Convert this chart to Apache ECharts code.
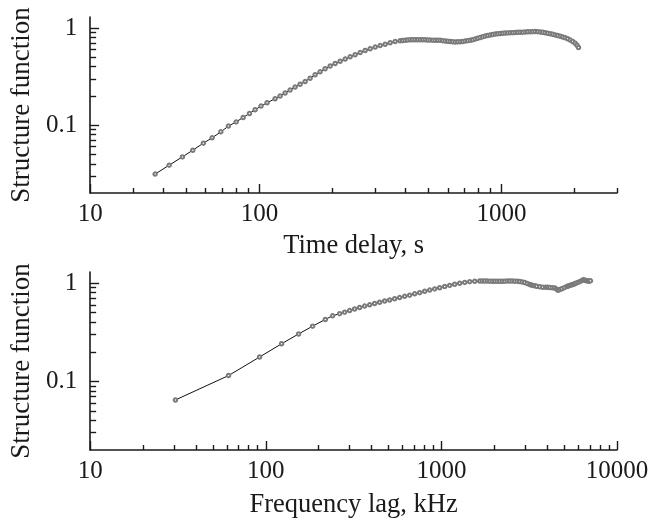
<!DOCTYPE html>
<html><head><meta charset="utf-8">
<script src="https://cdn.jsdelivr.net/npm/echarts@6/dist/echarts.min.js"></script>
<style>html,body{margin:0;padding:0;background:#fff}#c{width:661px;height:520px}</style>
</head><body><div id="c"></div>
<script>
// ---- Top panel: structure function vs time delay (s)
const timeDelay = [37.1, 42.4, 48.1, 53.1, 58.7, 63.8, 69.3, 74.5, 80.2, 85.7, 91.0, 96.0, 101.6, 107.6,
  116.1, 121.8, 127.7, 133.9, 140.4, 147.3, 154.5, 162.0, 169.9, 178.1, 186.8, 196.0, 205.5, 215.5, 226.1,
  237.1, 248.6, 260.7, 273.4, 286.7, 300.8, 315.4, 330.7, 346.8, 363.7,
  381.4, 390.6, 400.0, 409.6, 419.5, 429.5, 439.9, 450.5, 461.4, 472.5, 483.9, 495.5, 507.5, 519.7, 532.2,
  545.0, 558.1, 571.5, 585.3, 599.4, 613.8, 628.5, 643.7, 659.2, 675.1, 691.3, 707.9, 725.0, 742.4, 760.3,
  778.6, 797.4, 816.6, 836.3, 856.3, 877.0, 898.1, 919.6, 941.9, 964.5, 987.7, 1011.6, 1035.8, 1060.7,
  1086.4, 1112.4, 1139.2, 1166.7, 1194.9, 1223.5, 1253.1, 1283.2, 1313.9, 1345.8, 1378.0, 1411.0, 1445.4,
  1480.2, 1515.4, 1552.3, 1589.4, 1628.0, 1666.8, 1707.5, 1748.3, 1790.6, 1833.6, 1877.9, 1922.5, 1969.4,
  2016.3, 2051.2, 2080.4];
const structTime = [0.0313, 0.0387, 0.0471, 0.0552, 0.0652, 0.0740, 0.0853, 0.0977, 0.108, 0.120, 0.132, 0.144, 0.157, 0.170,
  0.187, 0.1995, 0.214, 0.2295, 0.2464, 0.2634, 0.281, 0.3045, 0.330, 0.354, 0.381, 0.406, 0.431, 0.455, 0.479,
  0.505, 0.531, 0.559, 0.587, 0.612, 0.637, 0.660, 0.681, 0.705, 0.726,
  0.740, 0.745, 0.750, 0.754, 0.756, 0.757, 0.758, 0.758, 0.758, 0.757, 0.756, 0.754, 0.752, 0.751, 0.750,
  0.749, 0.747, 0.742, 0.736, 0.731, 0.726, 0.722, 0.719, 0.721, 0.722, 0.728, 0.734, 0.742, 0.749, 0.759,
  0.770, 0.785, 0.798, 0.813, 0.827, 0.839, 0.849, 0.859, 0.867, 0.873, 0.880, 0.884, 0.888, 0.892,
  0.894, 0.897, 0.899, 0.903, 0.905, 0.907, 0.909, 0.914, 0.916, 0.918, 0.920, 0.918, 0.912,
  0.905, 0.894, 0.884, 0.873, 0.861, 0.849, 0.837, 0.823, 0.810, 0.794, 0.776, 0.752, 0.726,
  0.697, 0.665, 0.631];

// ---- Bottom panel: structure function vs frequency lag (kHz)
const freqLag = [30.6, 61.4, 92.2, 123.0, 153.8, 184.8, 218.3, 240.2, 263.4, 281.2, 300.3, 320.6, 342.3, 365.6,
  390.4, 416.9, 445.0, 475.3, 507.5, 542, 578.5, 618, 659.7, 704.7, 752.2, 803.5, 857.8, 916, 977.9, 1044.6,
  1115.2, 1191, 1271.5, 1358.5, 1449.8, 1548.8,
  1653.1, 1708.4, 1765.3, 1823.9, 1884.6, 1948, 2012, 2079.7, 2148.6, 2221.2, 2294, 2371.4, 2449.6, 2531.5,
  2616, 2703.6, 2792.9, 2886.3, 2982.8, 3082.5, 3185.5, 3249, 3313, 3401.6, 3491.5, 3632.2, 3778.5, 3930,
  4034.6, 4141.7, 4279.8, 4422.7, 4522.9, 4618.3, 4721.9, 4848.5, 5009.8, 5176.2, 5278, 5383, 5489.7, 5601,
  5710.5, 5825, 5979.2, 6139.6, 6278.3, 6411.4, 6528.7, 6642.8, 6746.1, 6846.9, 6954.4, 7063];
const structFreq = [0.0647, 0.1146, 0.177, 0.2413, 0.304, 0.365, 0.4274, 0.465, 0.4895, 0.507, 0.5256, 0.545, 0.5647, 0.584,
  0.6021, 0.621, 0.639, 0.658, 0.6752, 0.695, 0.7131, 0.734, 0.7551, 0.779, 0.8014, 0.827, 0.8504, 0.875, 0.8985, 0.924,
  0.9489, 0.976, 1.0, 1.019, 1.036, 1.046,
  1.054, 1.052, 1.051, 1.050, 1.049, 1.047, 1.046, 1.045, 1.044, 1.046, 1.049, 1.051, 1.054, 1.051,
  1.049, 1.045, 1.041, 1.029, 1.017, 0.993, 0.970, 0.958, 0.949, 0.940, 0.931, 0.920, 0.909, 0.907,
  0.907, 0.905, 0.899, 0.892, 0.869, 0.8465, 0.861, 0.877, 0.901, 0.924, 0.936, 0.949, 0.958, 0.970,
  0.981, 1.0, 1.019, 1.036, 1.061, 1.082, 1.077, 1.066, 1.056, 1.049, 1.049, 1.056];

// ---- Ticks and labels
const topXMajor = [20.001, 100, 1000];
const topXLabels = ['10', '100', '1000'];
const topXMinor = [30, 40, 50, 60, 70, 80, 90, 200, 300, 400, 500, 600, 700, 800, 900, 2000, 2999.9];
const botXMajor = [10.0001, 100, 1000, 9999.9];
const botXLabels = ['10', '100', '1000', '10000'];
const botXMinor = [20, 30, 40, 50, 60, 70, 80, 90, 200, 300, 400, 500, 600, 700, 800, 900,
  2000, 3000, 4000, 5000, 6000, 7000, 8000, 9000];
const yMajor = [0.1, 1];
const yLabels = ['0.1', '1'];
const yMinor = [0.03, 0.04, 0.05, 0.06, 0.07, 0.08, 0.09, 0.2, 0.3, 0.4, 0.5, 0.6, 0.7, 0.8, 0.9];

const FONT = 'Liberation Serif';
const INK = '#1a1a1a';

function labelFor(vals, labels) {
  return function (v) {
    for (let i = 0; i < vals.length; i++) {
      if (Math.abs(Math.log10(v) - Math.log10(vals[i])) < 0.005) return labels[i];
    }
    return '';
  };
}
function zip(a, b) { return a.map((v, i) => [v, b[i]]); }

function majorX(grid, min, max, major, labels, name, margin, nameGap) {
  return {
    type: 'log', gridIndex: grid, position: 'bottom', min: min, max: max,
    axisLine: { show: true, lineStyle: { color: INK, width: 1.6 } },
    axisTick: { show: true, inside: true, length: 9, customValues: major, lineStyle: { color: INK, width: 1.4 } },
    axisLabel: { show: true, customValues: major, formatter: labelFor(major, labels), margin: margin,
      fontFamily: FONT, fontSize: 25, color: INK },
    splitLine: { show: false }, minorTick: { show: false },
    name: name, nameLocation: 'middle', nameGap: nameGap,
    nameTextStyle: { fontFamily: FONT, fontSize: 26.5, color: INK }
  };
}
function minorX(grid, min, max, minor) {
  return {
    type: 'log', gridIndex: grid, position: 'bottom', min: min, max: max,
    axisLine: { show: false },
    axisTick: { show: true, inside: true, length: 5, customValues: minor, lineStyle: { color: INK, width: 1.4 } },
    axisLabel: { show: false }, splitLine: { show: false }
  };
}
function majorY(grid, name) {
  return {
    type: 'log', gridIndex: grid, position: 'left', min: 0.02, max: 1.3,
    axisLine: { show: true, lineStyle: { color: INK, width: 1.6 } },
    axisTick: { show: true, inside: true, length: 9, customValues: yMajor, lineStyle: { color: INK, width: 1.4 } },
    axisLabel: { show: true, customValues: yMajor, formatter: labelFor(yMajor, yLabels), margin: 13,
      fontFamily: FONT, fontSize: 25, color: INK },
    splitLine: { show: false },
    name: name, nameLocation: 'middle', nameGap: 50, nameRotate: 90,
    nameTextStyle: { fontFamily: FONT, fontSize: 27, color: INK }
  };
}
function minorY(grid) {
  return {
    type: 'log', gridIndex: grid, position: 'left', min: 0.02, max: 1.3,
    axisLine: { show: false },
    axisTick: { show: true, inside: true, length: 6, customValues: yMinor, lineStyle: { color: INK, width: 1.4 } },
    axisLabel: { show: false }, splitLine: { show: false }
  };
}
function series(xi, yi, data) {
  return {
    type: 'line', xAxisIndex: xi, yAxisIndex: yi, data: data,
    symbol: 'emptyCircle', symbolSize: 3.5, showSymbol: true, showAllSymbol: true,
    itemStyle: { color: '#7a7a7a', borderWidth: 1 },
    lineStyle: { color: '#111', width: 1 },
    emphasis: { disabled: true }, silent: true
  };
}

const chart = echarts.init(document.getElementById('c'), null, { renderer: 'canvas' });
chart.setOption({
  animation: false,
  backgroundColor: '#fff',
  grid: [
    { left: 90, right: 44, top: 17, height: 176, containLabel: false },
    { left: 90, right: 44, top: 272, height: 178, containLabel: false }
  ],
  xAxis: [
    majorX(0, 20, 3000, topXMajor, topXLabels, 'Time delay, s', 9, 40),
    minorX(0, 20, 3000, topXMinor),
    majorX(1, 10, 10000, botXMajor, botXLabels, 'Frequency lag, kHz', 9, 42),
    minorX(1, 10, 10000, botXMinor)
  ],
  yAxis: [
    majorY(0, 'Structure function'),
    minorY(0),
    majorY(1, 'Structure function'),
    minorY(1)
  ],
  series: [
    series(0, 0, zip(timeDelay, structTime)),
    series(2, 2, zip(freqLag, structFreq))
  ]
});
</script></body></html>
